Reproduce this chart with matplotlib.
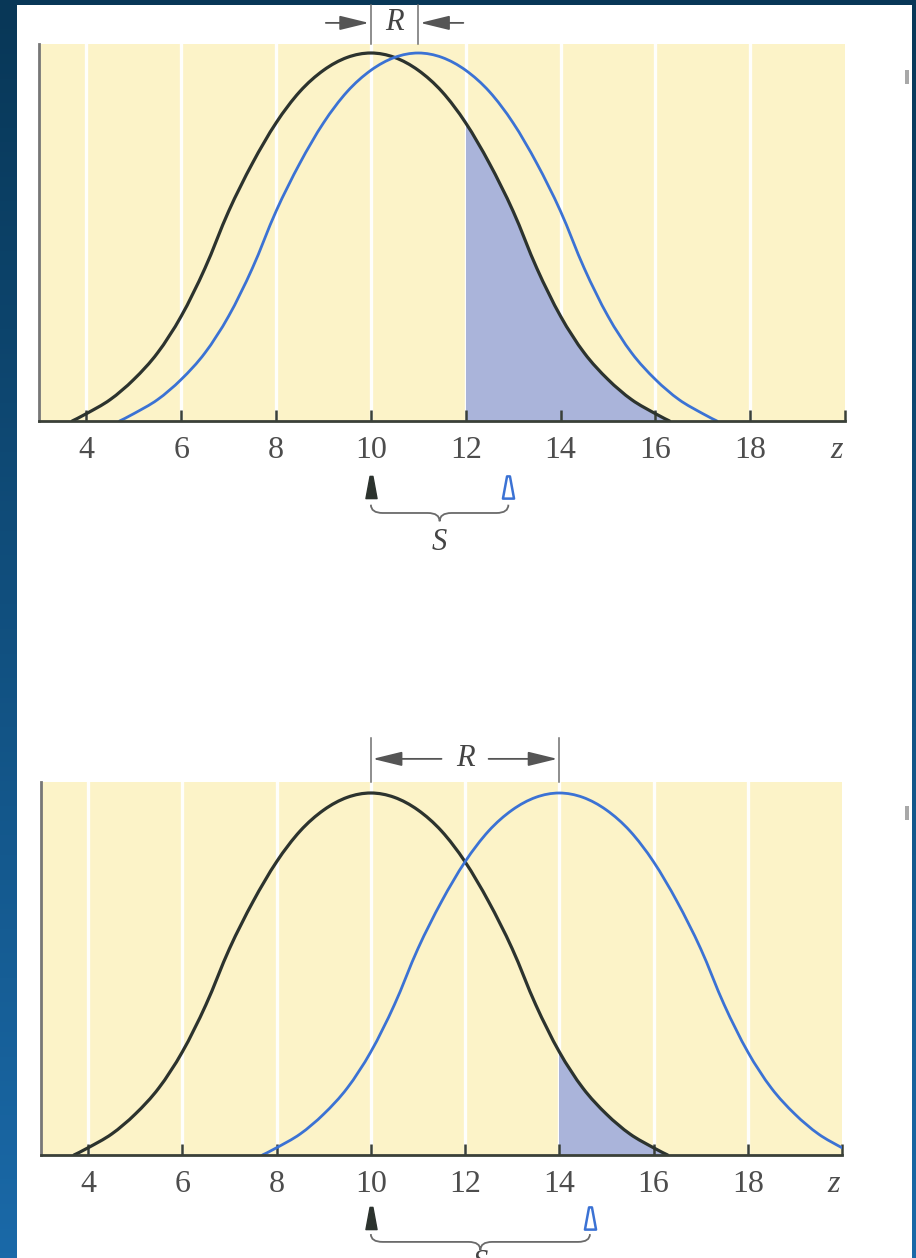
import numpy as np
import matplotlib
matplotlib.use("Agg")
import matplotlib.pyplot as plt
from matplotlib.path import Path
from matplotlib.patches import PathPatch, Rectangle
from matplotlib.colors import LinearSegmentedColormap
import matplotlib.transforms as mtransforms

# Shared bell-shaped profile: offset from the mean (z units) and relative height
profile_offset = [-6.3, -6.0, -5.5, -5.0, -4.5, -4.0, -3.5, -3.0, -2.5, -2.0, -1.5,
                  -1.0, -0.5, 0.0, 0.5, 1.0, 1.5, 2.0, 2.5, 3.0, 3.5, 4.0, 4.5,
                  5.0, 5.5, 6.0, 6.3]
profile_height = [0.0, 0.02, 0.058, 0.113, 0.185, 0.285, 0.415, 0.57, 0.70, 0.81,
                  0.895, 0.953, 0.988, 1.0, 0.988, 0.953, 0.895, 0.81, 0.70, 0.57,
                  0.415, 0.285, 0.185, 0.113, 0.058, 0.02, 0.0]

z_ticks = [4, 6, 8, 10, 12, 14, 16, 18, 20]
z_labels = ['4', '6', '8', '10', '12', '14', '16', '18', 'z']
grid_z = [4, 6, 8, 10, 12, 14, 16, 18]

# Upper panel: means of the two distributions, shading threshold, marker positions
top_means = [10, 11]
top_threshold = 12
top_markers = [10, 12.9]

# Lower panel
bottom_means = [10, 14]
bottom_threshold = 14
bottom_markers = [10, 14.65]

Z_MIN, Z_MAX = 3, 20

BLACK = '#2c332e'
BLUE = '#3b72d4'
SHADE = '#aab4da'
YELLOW = '#fcf3c8'
TEXT = '#4d4d4d'
SERIF = 'Liberation Serif'

W, H = 916, 1258
fig = plt.figure(figsize=(W / 100, H / 100), dpi=100)


def fig_box(x0, y0, x1, y1):
    return [x0 / W, 1 - y1 / H, (x1 - x0) / W, (y1 - y0) / H]


# blue gradient backdrop and white page
bg = fig.add_axes([0, 0, 1, 1], zorder=-10)
cmap = LinearSegmentedColormap.from_list('backdrop', ['#083757', '#1a69a8'])
bg.imshow(np.linspace(0, 1, 256).reshape(-1, 1), aspect='auto', cmap=cmap,
          extent=[0, 1, 0, 1], origin='upper')
bg.set_axis_off()
fig.patches.append(Rectangle((17 / W, 0), (912 - 17) / W, 1 - 5 / H,
                             transform=fig.transFigure, facecolor='white',
                             edgecolor='none', zorder=-5))
for yy in (70, 806):
    fig.patches.append(Rectangle((905 / W, 1 - (yy + 14) / H), 4 / W, 14 / H,
                                 transform=fig.transFigure, facecolor='#a8a8a8',
                                 edgecolor='none', zorder=-4))


def smooth_verts(xs, ys):
    pts = np.column_stack([xs, ys]).astype(float)
    n = len(pts)
    verts = [pts[0]]
    codes = [Path.MOVETO]
    for i in range(n - 1):
        p0 = pts[max(i - 1, 0)]
        p1 = pts[i]
        p2 = pts[i + 1]
        p3 = pts[min(i + 2, n - 1)]
        verts += [p1 + (p2 - p0) / 6, p2 - (p3 - p1) / 6, p2]
        codes += [Path.CURVE4] * 3
    return verts, codes


def bell(ax, mean, color, lw, z):
    xs = [mean + o for o in profile_offset]
    verts, codes = smooth_verts(xs, profile_height)
    ax.add_patch(PathPatch(Path(verts, codes), fill=False, edgecolor=color,
                           lw=lw, zorder=z, capstyle='round'))


def shade(ax, mean, threshold):
    xs = [mean + o for o in profile_offset]
    verts, codes = smooth_verts(xs, profile_height)
    verts = verts + [(xs[0], 0), (xs[0], 0)]
    codes = codes + [Path.LINETO, Path.CLOSEPOLY]
    patch = PathPatch(Path(verts, codes), facecolor=SHADE, edgecolor='none', zorder=1)
    ax.add_patch(patch)
    clip = Rectangle((threshold, -1), Z_MAX - threshold + 1, 3, transform=ax.transData)
    patch.set_clip_path(clip)


def brace(ax, x0, x1, y_line, y_end, y_tip):
    tr = mtransforms.blended_transform_factory(ax.transData, ax.transAxes)
    xm = (x0 + x1) / 2
    d = 0.25
    verts = [(x0, y_end), (x0, y_line), (x0 + d, y_line),
             (xm - d, y_line),
             (xm, y_line), (xm, y_tip),
             (xm, y_line), (xm + d, y_line),
             (x1 - d, y_line),
             (x1, y_line), (x1, y_end)]
    codes = [Path.MOVETO, Path.CURVE3, Path.CURVE3,
             Path.LINETO,
             Path.CURVE3, Path.CURVE3,
             Path.CURVE3, Path.CURVE3,
             Path.LINETO,
             Path.CURVE3, Path.CURVE3]
    ax.add_patch(PathPatch(Path(verts, codes), fill=False, edgecolor='#6a6a6a',
                           lw=1.3, transform=tr, clip_on=False))


spike = Path([(-0.5, -1), (0.5, -1), (0.13, 1), (-0.13, 1), (-0.5, -1)],
             [Path.MOVETO, Path.LINETO, Path.LINETO, Path.LINETO, Path.CLOSEPOLY])


def panel(box, means, threshold, markers, y_top, r_y, r_line_top, r_inward,
          marker_y, brace_y, s_y):
    ax = fig.add_axes(fig_box(*box))
    ax.set_xlim(Z_MIN, Z_MAX)
    ax.set_ylim(0, y_top)
    ax.set_facecolor(YELLOW)
    for g in grid_z:
        ax.axvline(g, color='white', lw=2.4, alpha=0.95, zorder=0.5)
    shade(ax, means[0], threshold)
    bell(ax, means[0], BLACK, 2.3, 3)
    bell(ax, means[1], BLUE, 2.0, 4)

    for s in ('top', 'right'):
        ax.spines[s].set_visible(False)
    ax.spines['left'].set_color('#777777')
    ax.spines['left'].set_linewidth(2)
    ax.spines['bottom'].set_color('#3a4038')
    ax.spines['bottom'].set_linewidth(2)
    ax.spines['bottom'].set_zorder(5)
    ax.set_yticks([])
    ax.set_xticks(z_ticks)
    ax.set_xticklabels(z_labels)
    ax.tick_params(axis='x', direction='in', length=8, width=1.8, color='#3a4038',
                   pad=11, labelsize=23, labelcolor=TEXT)
    labels = ax.get_xticklabels()
    for lab in labels:
        lab.set_fontfamily(SERIF)
    labels[-1].set_fontstyle('italic')
    labels[-1].set_transform(labels[-1].get_transform() +
                             mtransforms.ScaledTranslation(-8 / 100, 0, fig.dpi_scale_trans))

    tr = mtransforms.blended_transform_factory(ax.transData, ax.transAxes)

    # R: distance between the two means
    m0, m1 = means
    for m in means:
        ax.plot([m, m], [1.0, r_line_top], transform=tr, clip_on=False,
                color='#6f6f6f', lw=1.1)
    mid = (m0 + m1) / 2
    ax.text(mid, r_y, 'R', transform=tr, ha='center', va='center', fontsize=22,
            fontstyle='italic', family=SERIF, color='#444444')
    style = '-|>,head_length=0.9,head_width=0.22'
    aprops = dict(arrowstyle=style, color='#555555', lw=1.3, mutation_scale=20,
                  shrinkA=0, shrinkB=0)
    if r_inward:
        ax.annotate('', xy=(m0 - 0.04, r_y), xytext=(m0 - 0.95, r_y), xycoords=tr,
                    textcoords=tr, arrowprops=aprops, annotation_clip=False)
        ax.annotate('', xy=(m1 + 0.04, r_y), xytext=(m1 + 0.95, r_y), xycoords=tr,
                    textcoords=tr, arrowprops=aprops, annotation_clip=False)
    else:
        ax.annotate('', xy=(m0 + 0.04, r_y), xytext=(mid - 0.5, r_y), xycoords=tr,
                    textcoords=tr, arrowprops=aprops, annotation_clip=False)
        ax.annotate('', xy=(m1 - 0.04, r_y), xytext=(mid + 0.5, r_y), xycoords=tr,
                    textcoords=tr, arrowprops=aprops, annotation_clip=False)

    # markers below the axis and the S brace
    ax.plot([markers[0]], [marker_y], transform=tr, clip_on=False, marker=spike,
            markersize=16, color=BLACK, linestyle='none')
    ax.plot([markers[1]], [marker_y], transform=tr, clip_on=False, marker=spike,
            markersize=16, markerfacecolor='white', markeredgecolor=BLUE,
            markeredgewidth=1.8, linestyle='none')
    brace(ax, markers[0], markers[1], brace_y[0], brace_y[1], brace_y[2])
    ax.text((markers[0] + markers[1]) / 2, s_y, 'S', transform=tr, ha='center',
            va='center', fontsize=22, fontstyle='italic', family=SERIF,
            color='#444444', clip_on=False)
    return ax


panel((39, 44, 845, 421), top_means, top_threshold, top_markers,
      y_top=377 / 368, r_y=1.056, r_line_top=1.103, r_inward=True,
      marker_y=-0.175, brace_y=(-0.244, -0.222, -0.266), s_y=-0.321)

panel((41, 782, 842, 1155), bottom_means, bottom_threshold, bottom_markers,
      y_top=373 / 362, r_y=1.062, r_line_top=1.118, r_inward=False,
      marker_y=-0.169, brace_y=(-0.233, -0.212, -0.255), s_y=-0.29)

fig.savefig('out.png', dpi=100)
